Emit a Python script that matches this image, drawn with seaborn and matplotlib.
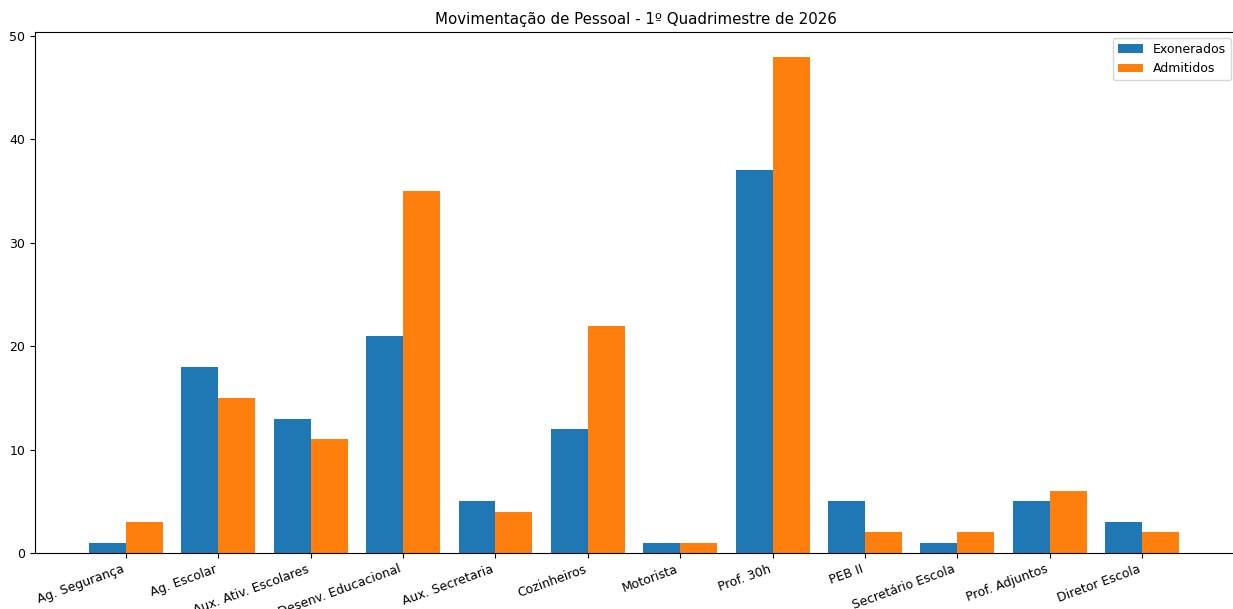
import pandas as pd
import matplotlib
matplotlib.use("Agg")
import matplotlib.pyplot as plt
import seaborn as sns

# Dados
cargos = ["Ag. Segurança", "Ag. Escolar", "Aux. Ativ. Escolares", "Desenv. Educacional",
          "Aux. Secretaria", "Cozinheiros", "Motorista", "Prof. 30h", "PEB II",
          "Secretário Escola", "Prof. Adjuntos", "Diretor Escola"]
exonerados = [1, 18, 13, 21, 5, 12, 1, 37, 5, 1, 5, 3]
admitidos = [3, 15, 11, 35, 4, 22, 1, 48, 2, 2, 6, 2]

df = pd.DataFrame({"Cargo": cargos * 2,
                   "Quantidade": exonerados + admitidos,
                   "Tipo": ["Exonerados"] * len(cargos) + ["Admitidos"] * len(cargos)})

fig = plt.figure(figsize=(12.33, 6.09), dpi=100)
ax = fig.add_axes([0.0284, 0.092, 0.975, 0.8555])

sns.barplot(data=df, x="Cargo", y="Quantidade", hue="Tipo", ax=ax,
            palette=["#1f77b4", "#ff7f0e"], saturation=1, width=0.8,
            errorbar=None)

ax.set_title("Movimentação de Pessoal - 1º Quadrimestre de 2026", fontsize=10.8)
ax.set_xlabel("")
ax.set_ylabel("")
ax.set_xlim(-0.985, 12.03)
ax.set_ylim(0, 50.4)
for s in ax.spines.values():
    s.set_visible(True)
plt.xticks(rotation=20, ha="right", fontsize=9)
plt.yticks(fontsize=9)
ax.legend(loc="upper right", fontsize=9)

fig.savefig("out.png", dpi=100)
